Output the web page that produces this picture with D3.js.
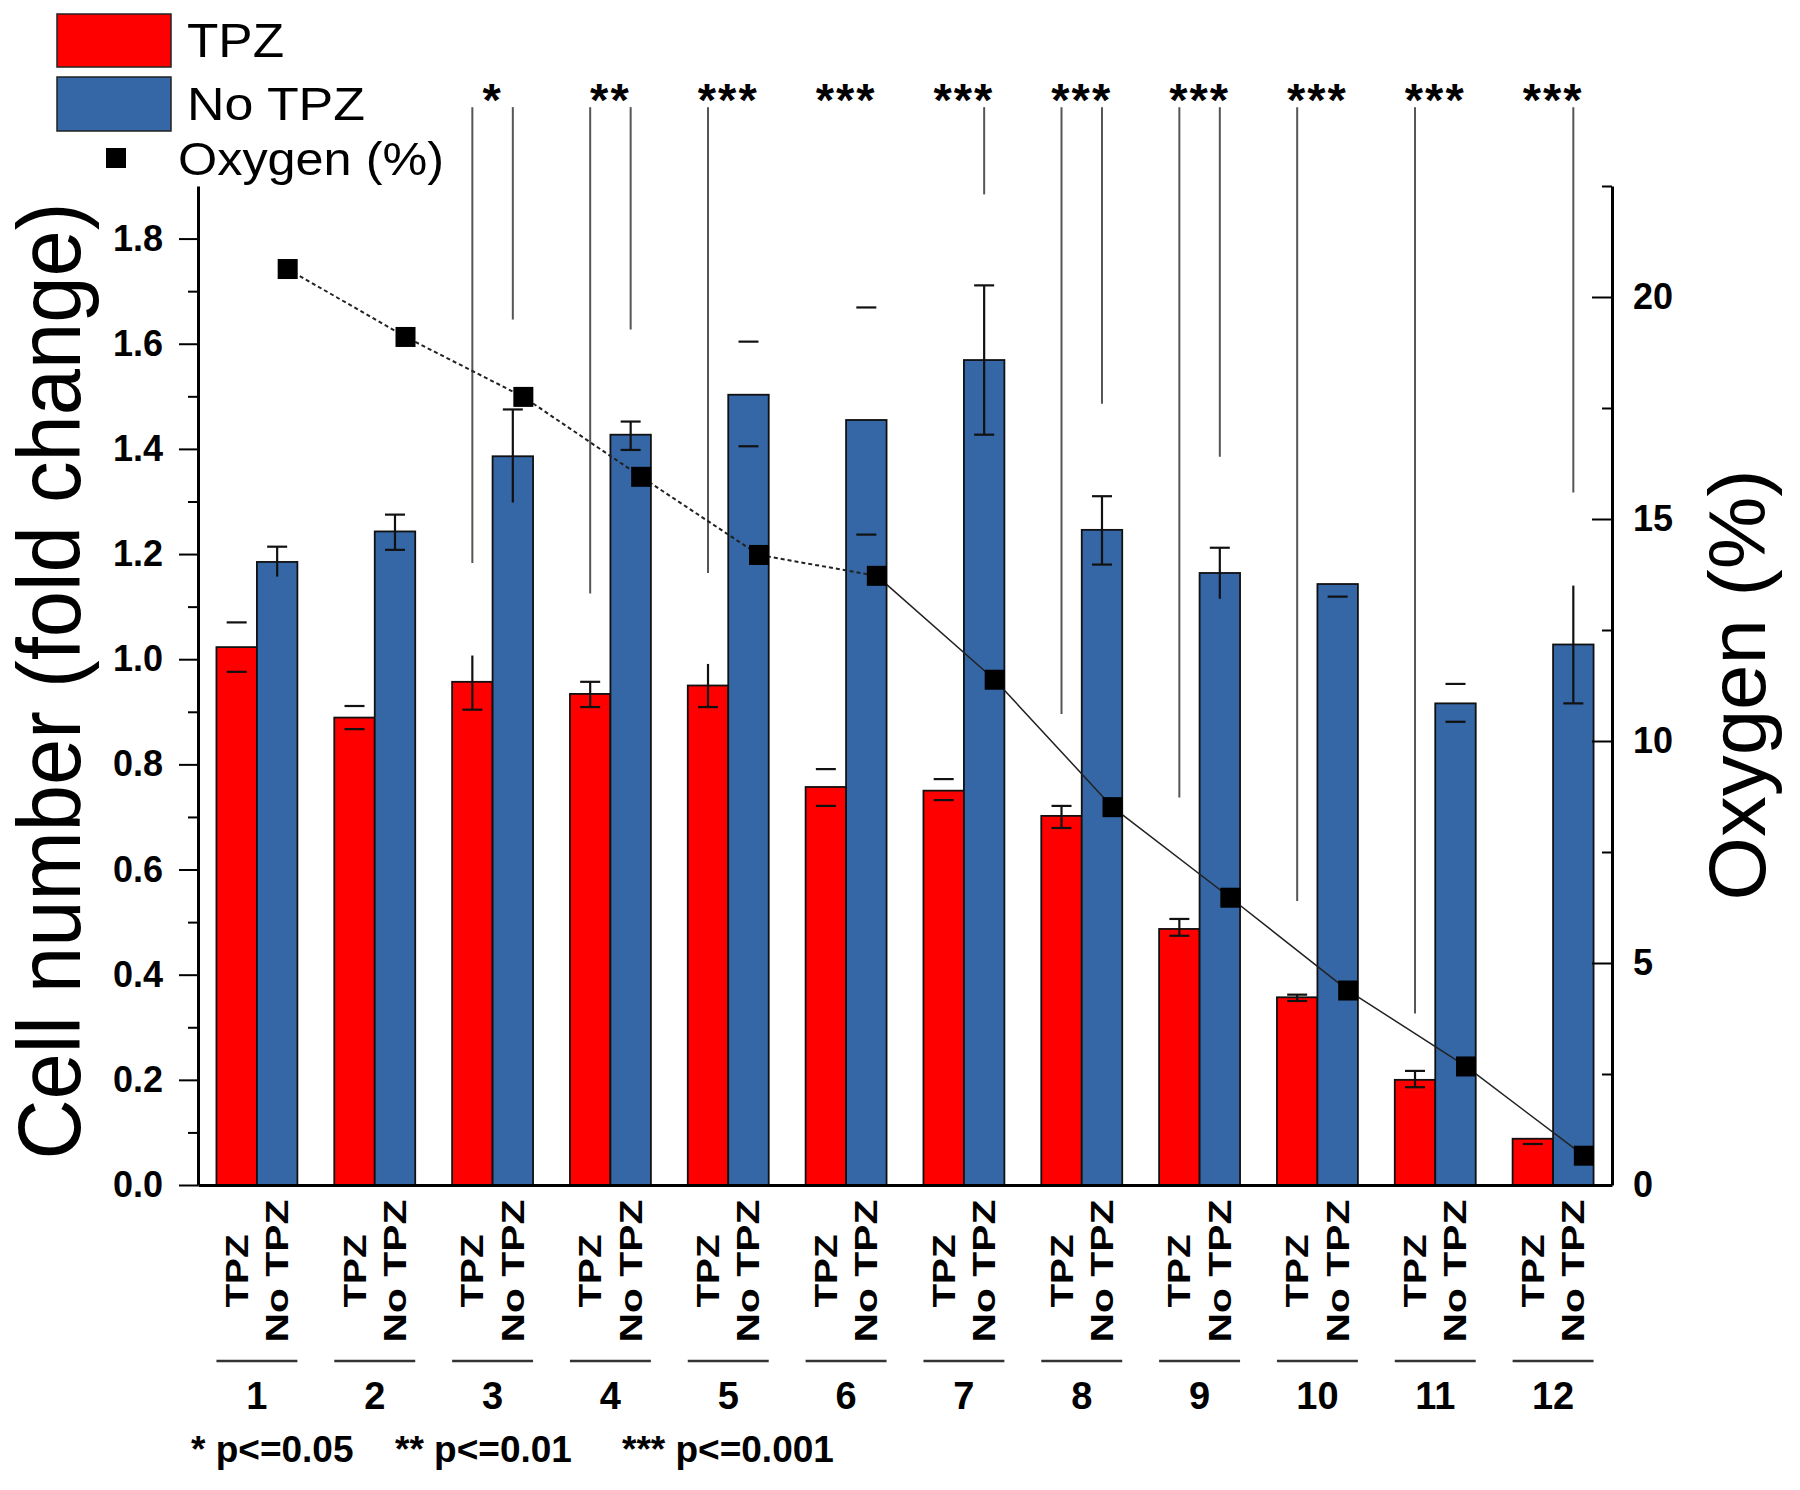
<!DOCTYPE html>
<html><head><meta charset="utf-8">
<script src="https://cdn.jsdelivr.net/npm/d3@7"></script>
<style>
body{margin:0;background:#fff}
svg{display:block}
text{font-family:"Liberation Sans",Arial,Helvetica,sans-serif;fill:#000}
</style>
</head><body>
<svg id="c" width="1800" height="1490"></svg>
<script>
// ---------- data ----------
const groups = ["1","2","3","4","5","6","7","8","9","10","11","12"];
const seriesNames = ["TPZ","No TPZ"];
const tpz   = [1.023,0.889,0.957,0.934,0.950,0.757,0.750,0.702,0.487,0.357,0.200,0.088];
const noTpz = [1.185,1.243,1.386,1.427,1.503,1.455,1.569,1.246,1.164,1.143,0.916,1.028];
// error bar ends (low / high) and which parts are visible (s=stem, L=low cap, H=high cap)
const tpzLo   = [0.976,0.867,0.904,0.909,0.909,0.721,0.732,0.679,0.474,0.350,0.186,0.078];
const tpzHi   = [1.070,0.911,1.007,0.957,0.991,0.791,0.772,0.721,0.506,0.362,0.217,0.090];
const tpzPart = ["LH","LH","sL","sLH","sL","LH","LH","sLH","sLH","sLH","sLH","L"];
const noLo    = [1.157,1.208,1.298,1.398,1.405,1.237,1.427,1.180,1.115,1.119,0.881,0.916];
const noHi    = [1.214,1.275,1.475,1.452,1.604,1.669,1.711,1.310,1.212,1.165,0.953,1.140];
const noPart  = ["sH","sLH","sH","sLH","LH","LH","sLH","sLH","sH","L","LH","sL"];
const oxygen  = [20.63,19.10,17.75,15.95,14.19,13.72,11.38,8.51,6.47,4.38,2.67,0.66];
const stars   = ["","","*","**","***","***","***","***","***","***","***","***"];
// significance lines: top value and where each line ends (over TPZ / over No TPZ bar)
const sigTop      = 2.05;
const sigLeftEnd  = [null,null,1.183,1.125,1.164,null,null,0.896,0.737,0.540,0.326,null];
const sigRightEnd = [null,null,1.646,1.627,null,null,1.884,1.486,1.385,null,null,1.317];
const leftTicks  = [0,0.2,0.4,0.6,0.8,1.0,1.2,1.4,1.6,1.8];
const leftMinor  = [0.1,0.3,0.5,0.7,0.9,1.1,1.3,1.5,1.7];
const rightTicks = [0,5,10,15,20];
const rightMinor = [2.5,7.5,12.5,17.5,22.5];
const footnotes  = ["* p<=0.05","** p<=0.01","*** p<=0.001"];

// ---------- layout ----------
const svg = d3.select("#c");
const M = {left:198, right:1612, top:186, bottom:1185};
const RED = "#ff0000", BLUE = "#3566a5";

const x = d3.scaleBand().domain(groups).range([M.left, M.right]).paddingInner(0.313).paddingOuter(0.1565);
const bw = x.bandwidth();
const sub = d3.scaleBand().domain(seriesNames).range([0, bw]);
const yL = d3.scaleLinear().domain([0,1.9]).range([M.bottom, M.top]);
const yR = d3.scaleLinear().domain([0,22.5]).range([M.bottom, M.top]);

const rows = groups.map((g,i)=>({g,i}));

// bars
const bars = svg.append("g");
[[tpz, "TPZ", RED],[noTpz, "No TPZ", BLUE]].forEach(([vals, s, col])=>{
  bars.selectAll(null).data(rows).enter().append("rect")
    .attr("x", d=>x(d.g)+sub(s))
    .attr("y", d=>yL(vals[d.i]))
    .attr("width", sub.bandwidth())
    .attr("height", d=>yL(0)-yL(vals[d.i]))
    .attr("fill", col).attr("stroke","#111").attr("stroke-width",1.8);
});

// error bars
const eb = svg.append("g").attr("stroke","#111").attr("stroke-width",2.2);
[[tpzLo,tpzHi,tpzPart,"TPZ"],[noLo,noHi,noPart,"No TPZ"]].forEach(([lo,hi,pt,s])=>{
  rows.forEach(d=>{
    const cx = x(d.g)+sub(s)+sub.bandwidth()/2;
    const p = pt[d.i];
    if (p.includes("s")) eb.append("line").attr("x1",cx).attr("x2",cx).attr("y1",yL(lo[d.i])).attr("y2",yL(hi[d.i]));
    if (p.includes("L")) eb.append("line").attr("x1",cx-10).attr("x2",cx+10).attr("y1",yL(lo[d.i])).attr("y2",yL(lo[d.i]));
    if (p.includes("H")) eb.append("line").attr("x1",cx-10).attr("x2",cx+10).attr("y1",yL(hi[d.i])).attr("y2",yL(hi[d.i]));
  });
});

// significance lines
const sg = svg.append("g").attr("stroke","#555").attr("stroke-width",2);
rows.forEach(d=>{
  const cl = x(d.g)+sub("TPZ")+sub.bandwidth()/2;
  const cr = x(d.g)+sub("No TPZ")+sub.bandwidth()/2;
  if (sigLeftEnd[d.i]!=null) sg.append("line").attr("x1",cl).attr("x2",cl).attr("y1",yL(sigTop)).attr("y2",yL(sigLeftEnd[d.i]));
  if (sigRightEnd[d.i]!=null) sg.append("line").attr("x1",cr).attr("x2",cr).attr("y1",yL(sigTop)).attr("y2",yL(sigRightEnd[d.i]));
});
svg.append("g").selectAll(null).data(rows).enter().append("text")
  .attr("x", d=>x(d.g)+bw/2).attr("y", 116)
  .attr("text-anchor","middle").attr("font-size",47).attr("font-weight","bold")
  .attr("letter-spacing",2)
  .text(d=>stars[d.i]);

// oxygen line
const ox = d=>x(d.g)+bw*0.88;
const line = d3.line().x(ox).y(d=>yR(oxygen[d.i]));
svg.append("path").datum(rows.slice(0,6)).attr("d",line)
  .attr("fill","none").attr("stroke","#222").attr("stroke-width",2).attr("stroke-dasharray","4,3");
svg.append("path").datum(rows.slice(5)).attr("d",line)
  .attr("fill","none").attr("stroke","#222").attr("stroke-width",1.5);
svg.append("g").selectAll(null).data(rows).enter().append("rect")
  .attr("x", d=>ox(d)-10).attr("y", d=>yR(oxygen[d.i])-10)
  .attr("width",20).attr("height",20).attr("fill","#000");

// axes
function styleAxis(g){
  g.select(".domain").attr("stroke","#000").attr("stroke-width",3);
  g.selectAll(".tick line").attr("stroke","#000").attr("stroke-width",2);
  g.selectAll(".tick text").attr("font-size",36).attr("font-weight","bold")
    .attr("font-family",'"Liberation Sans",Arial,sans-serif').attr("fill","#000");
}
svg.append("g").attr("transform",`translate(${M.left},0)`)
  .call(d3.axisLeft(yL).tickValues(leftMinor).tickSize(10).tickFormat("").tickSizeOuter(0))
  .call(g=>g.select(".domain").remove()).call(styleAxis);
svg.append("g").attr("transform",`translate(${M.left},0)`)
  .call(d3.axisLeft(yL).tickValues(leftTicks).tickSize(19).tickPadding(16).tickSizeOuter(0).tickFormat(d3.format(".1f")))
  .call(styleAxis);
svg.append("g").attr("transform",`translate(${M.right},0)`)
  .call(d3.axisRight(yR).tickValues(rightMinor).tickSize(-10).tickFormat("").tickSizeOuter(0))
  .call(g=>g.select(".domain").remove()).call(styleAxis);
svg.append("g").attr("transform",`translate(${M.right},0)`)
  .call(d3.axisRight(yR).tickValues(rightTicks).tickSize(-20).tickPadding(21).tickSizeOuter(0).tickFormat(d3.format("d")))
  .call(styleAxis);
svg.append("g").attr("transform",`translate(0,${M.bottom})`)
  .call(d3.axisBottom(x).tickSize(0).tickSizeOuter(0).tickFormat(""))
  .call(g=>g.select(".domain").attr("stroke","#000").attr("stroke-width",3));

// category labels
const cat = svg.append("g");
rows.forEach(d=>{
  seriesNames.forEach(s=>{
    const cx = x(d.g)+sub(s)+sub.bandwidth()/2 + 11;
    cat.append("text").attr("transform",`translate(${cx},1271) rotate(-90)`)
      .attr("text-anchor","middle").attr("font-size",32).attr("font-weight","bold")
      .attr("textLength", s==="TPZ"?73:143).attr("lengthAdjust","spacingAndGlyphs")
      .text(s);
  });
  cat.append("line").attr("x1",x(d.g)).attr("x2",x(d.g)+bw).attr("y1",1361).attr("y2",1361)
    .attr("stroke","#333").attr("stroke-width",2.5);
  cat.append("text").attr("x",x(d.g)+bw/2).attr("y",1409).attr("text-anchor","middle")
    .attr("font-size",38).attr("font-weight","bold").text(d.g);
});

// footnote
const fx = [191,395,622];
svg.append("g").selectAll(null).data(footnotes).enter().append("text")
  .attr("x",(d,i)=>fx[i]).attr("y",1462).attr("font-size",37).attr("font-weight","bold").text(d=>d);

// axis titles
svg.append("text").attr("transform","translate(80,681) rotate(-90)")
  .attr("text-anchor","middle").attr("font-size",89)
  .attr("textLength",957).attr("lengthAdjust","spacingAndGlyphs")
  .text("Cell number (fold change)");
svg.append("text").attr("transform","translate(1765,685) rotate(-90)")
  .attr("text-anchor","middle").attr("font-size",80)
  .attr("textLength",431).attr("lengthAdjust","spacingAndGlyphs")
  .text("Oxygen (%)");

// legend
const lg = svg.append("g");
lg.append("rect").attr("x",57).attr("y",14).attr("width",114).attr("height",53).attr("fill",RED).attr("stroke","#222").attr("stroke-width",1.5);
lg.append("rect").attr("x",57).attr("y",77).attr("width",114).attr("height",54).attr("fill",BLUE).attr("stroke","#222").attr("stroke-width",1.5);
lg.append("rect").attr("x",106).attr("y",148).attr("width",20).attr("height",20).attr("fill","#000");
lg.append("text").attr("x",187).attr("y",57).attr("font-size",48).attr("textLength",97).attr("lengthAdjust","spacingAndGlyphs").text("TPZ");
lg.append("text").attr("x",187).attr("y",120).attr("font-size",47).attr("textLength",178).attr("lengthAdjust","spacingAndGlyphs").text("No TPZ");
lg.append("text").attr("x",178).attr("y",175).attr("font-size",47).attr("textLength",266).attr("lengthAdjust","spacingAndGlyphs").text("Oxygen (%)");
</script>
</body></html>
